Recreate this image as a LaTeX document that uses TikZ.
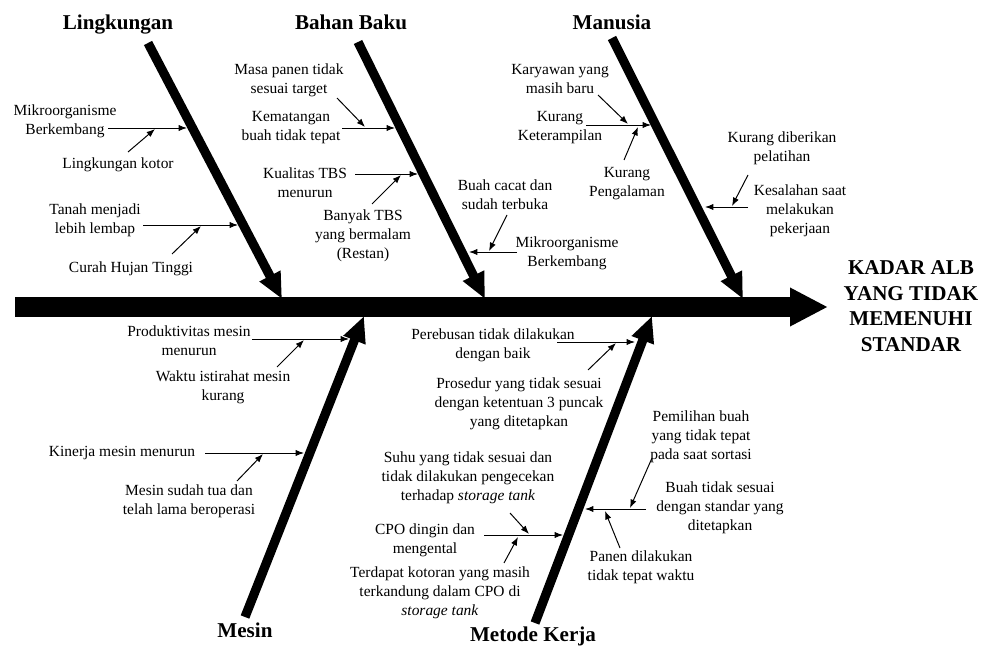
\documentclass[tikz,border=0pt]{standalone}
\usepackage{fontspec}
\setmainfont{Liberation Serif}
\usetikzlibrary{arrows.meta}

\begin{document}
\begin{tikzpicture}[
  x=0.025cm, y=-0.025cm,
  cause/.style={align=center, inner sep=0pt, font=\fontsize{11}{13.6}\selectfont},
  category/.style={anchor=base, inner sep=0pt, font=\fontsize{15}{18}\selectfont\bfseries},
  effect/.style={align=center, inner sep=0pt, font=\fontsize{15}{18.2}\selectfont\bfseries},
  spine/.style={line width=0.5cm, -{Triangle[length=0.95cm, width=0.9cm]}},
  bone/.style={line width=0.23cm, -{Triangle[length=0.65cm, width=0.55cm]}},
  edge/.style={line width=0.7pt, -{Latex[length=6pt, width=4.5pt]}}
]
  \useasboundingbox (0,0) rectangle (984,648);

  % head and spine
  \node[effect] (alb) at (911,306) {KADAR ALB\\YANG TIDAK\\MEMENUHI\\STANDAR};
  \coordinate (tail) at (15,307);
  \coordinate (head) at (828,307);
  \draw[spine] (tail) -- (head);

  % Lingkungan
  \node[category] (env) at (118,30) {Lingkungan};
  \coordinate (envtop) at (148,43);
  \coordinate (envtip) at (282,299);
  \draw[bone] (envtop) -- (envtip);
  \node[cause] (env1) at (65,121) {Mikroorganisme\\Berkembang};
  \node[cause] (env2) at (118,165) {Lingkungan kotor};
  \node[cause] (env3) at (95,220) {Tanah menjadi\\lebih lembap};
  \node[cause] (env4) at (131,269) {Curah Hujan Tinggi};
  \coordinate (env1s) at (108,128); \coordinate (env1e) at (187,128);
  \coordinate (env2s) at (128,152); \coordinate (env2e) at (155,129);
  \coordinate (env3s) at (143,225); \coordinate (env3e) at (238,225);
  \coordinate (env4s) at (172,254); \coordinate (env4e) at (201,226);
  \draw[edge] (env1s) -- (env1e);
  \draw[edge] (env2s) -- (env2e);
  \draw[edge] (env3s) -- (env3e);
  \draw[edge] (env4s) -- (env4e);

  % Bahan Baku
  \node[category] (mat) at (351,30) {Bahan Baku};
  \coordinate (mattop) at (358,42);
  \coordinate (mattip) at (485,299);
  \draw[bone] (mattop) -- (mattip);
  \node[cause] (mat1) at (289,80) {Masa panen tidak\\sesuai target};
  \node[cause] (mat2) at (291,128) {Kematangan\\buah tidak tepat};
  \node[cause] (mat3) at (305,183) {Kualitas TBS\\menurun};
  \node[cause] (mat4) at (363,236) {Banyak TBS\\yang bermalam\\(Restan)};
  \node[cause] (mat5) at (505,195) {Buah cacat dan\\sudah terbuka};
  \node[cause] (mat6) at (567,253) {Mikroorganisme\\Berkembang};
  \coordinate (mat1s) at (337,98);  \coordinate (mat1e) at (365,127);
  \coordinate (mat2s) at (342,128); \coordinate (mat2e) at (395,128);
  \coordinate (mat3s) at (355,174); \coordinate (mat3e) at (418,174);
  \coordinate (mat4s) at (372,204); \coordinate (mat4e) at (401,175);
  \coordinate (mat5s) at (507,215); \coordinate (mat5e) at (489,251);
  \coordinate (mat6s) at (517,252); \coordinate (mat6e) at (469,252);
  \draw[edge] (mat1s) -- (mat1e);
  \draw[edge] (mat2s) -- (mat2e);
  \draw[edge] (mat3s) -- (mat3e);
  \draw[edge] (mat4s) -- (mat4e);
  \draw[edge] (mat5s) -- (mat5e);
  \draw[edge] (mat6s) -- (mat6e);

  % Manusia
  \node[category] (man) at (612,30) {Manusia};
  \coordinate (mantop) at (612,38);
  \coordinate (mantip) at (743,299);
  \draw[bone] (mantop) -- (mantip);
  \node[cause] (man1) at (560,79) {Karyawan yang\\masih baru};
  \node[cause] (man2) at (560,128) {Kurang\\Keterampilan};
  \node[cause] (man3) at (627,184) {Kurang\\Pengalaman};
  \node[cause] (man4) at (782,148) {Kurang diberikan\\pelatihan};
  \node[cause] (man5) at (800,211) {Kesalahan saat\\melakukan\\pekerjaan};
  \coordinate (man1s) at (598,95);  \coordinate (man1e) at (628,124);
  \coordinate (man2s) at (586,125); \coordinate (man2e) at (651,125);
  \coordinate (man3s) at (624,160); \coordinate (man3e) at (638,127);
  \coordinate (man4s) at (748,175); \coordinate (man4e) at (732,206);
  \coordinate (man5s) at (748,207); \coordinate (man5e) at (705,207);
  \draw[edge] (man1s) -- (man1e);
  \draw[edge] (man2s) -- (man2e);
  \draw[edge] (man3s) -- (man3e);
  \draw[edge] (man4s) -- (man4e);
  \draw[edge] (man5s) -- (man5e);

  % Mesin
  \node[category] (mch) at (245,637) {Mesin};
  \coordinate (mchbot) at (245,617);
  \coordinate (mchtip) at (364,316);
  \draw[bone] (mchbot) -- (mchtip);
  \node[cause] (mch1) at (189,341) {Produktivitas mesin\\menurun};
  \node[cause] (mch2) at (223,387) {Waktu istirahat mesin\\kurang};
  \node[cause] (mch3) at (122,453) {Kinerja mesin menurun};
  \node[cause] (mch4) at (189,501) {Mesin sudah tua dan\\telah lama beroperasi};
  \coordinate (mch1s) at (252,339); \coordinate (mch1e) at (349,339);
  \coordinate (mch2s) at (277,367); \coordinate (mch2e) at (304,340);
  \coordinate (mch3s) at (205,453); \coordinate (mch3e) at (304,453);
  \coordinate (mch4s) at (237,481); \coordinate (mch4e) at (263,454);
  \draw[edge] (mch1s) -- (mch1e);
  \draw[edge] (mch2s) -- (mch2e);
  \draw[edge] (mch3s) -- (mch3e);
  \draw[edge] (mch4s) -- (mch4e);

  % Metode Kerja
  \node[category] (mtd) at (533,641) {Metode Kerja};
  \coordinate (mtdbot) at (535,623);
  \coordinate (mtdtip) at (652,316);
  \draw[bone] (mtdbot) -- (mtdtip);
  \node[cause] (mtd1) at (493,345) {Perebusan tidak dilakukan\\dengan baik};
  \node[cause] (mtd2) at (519,404) {Prosedur yang tidak sesuai\\dengan ketentuan 3 puncak\\yang ditetapkan};
  \node[cause] (mtd3) at (468,478) {Suhu yang tidak sesuai dan\\tidak dilakukan pengecekan\\terhadap \textit{storage tank}};
  \node[cause] (mtd4) at (425,540) {CPO dingin dan\\mengental};
  \node[cause] (mtd5) at (440,593) {Terdapat kotoran yang masih\\terkandung dalam CPO di\\\textit{storage tank}};
  \node[cause] (mtd6) at (701,437) {Pemilihan buah\\yang tidak tepat\\pada saat sortasi};
  \node[cause] (mtd7) at (720,508) {Buah tidak sesuai\\dengan standar yang\\ditetapkan};
  \node[cause] (mtd8) at (641,567) {Panen dilakukan\\tidak tepat waktu};
  \coordinate (mtd1s) at (557,342); \coordinate (mtd1e) at (635,342);
  \coordinate (mtd2s) at (588,370); \coordinate (mtd2e) at (616,343);
  \coordinate (mtd3s) at (510,513); \coordinate (mtd3e) at (529,534);
  \coordinate (mtd4s) at (484,535); \coordinate (mtd4e) at (563,535);
  \coordinate (mtd5s) at (504,563); \coordinate (mtd5e) at (518,537);
  \coordinate (mtd6s) at (652,458); \coordinate (mtd6e) at (630,508);
  \coordinate (mtd7s) at (646,509); \coordinate (mtd7e) at (585,509);
  \coordinate (mtd8s) at (620,548); \coordinate (mtd8e) at (605,511);
  \draw[edge] (mtd1s) -- (mtd1e);
  \draw[edge] (mtd2s) -- (mtd2e);
  \draw[edge] (mtd3s) -- (mtd3e);
  \draw[edge] (mtd4s) -- (mtd4e);
  \draw[edge] (mtd5s) -- (mtd5e);
  \draw[edge] (mtd6s) -- (mtd6e);
  \draw[edge] (mtd7s) -- (mtd7e);
  \draw[edge] (mtd8s) -- (mtd8e);
\end{tikzpicture}
\end{document}
